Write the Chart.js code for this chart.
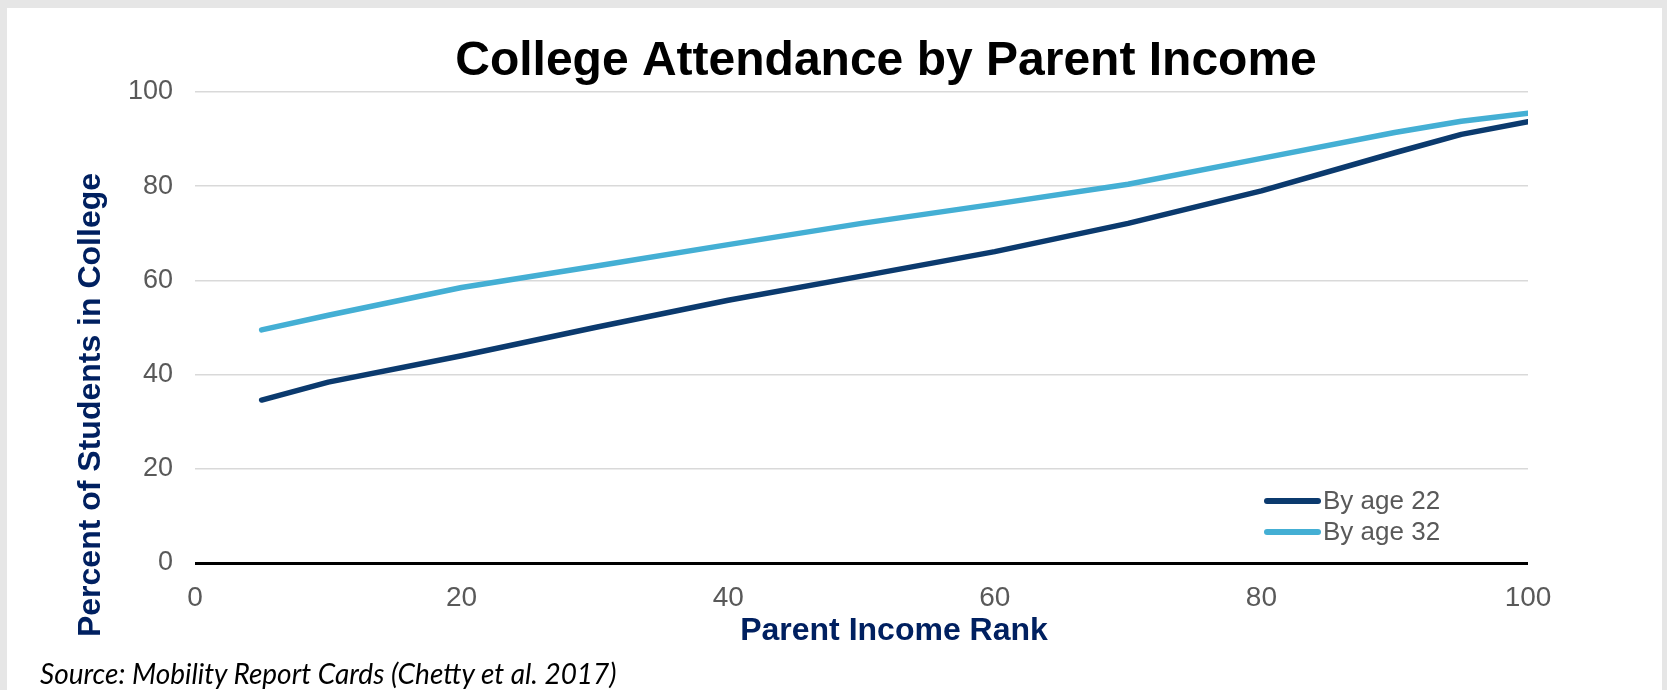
<!DOCTYPE html>
<html>
<head>
<meta charset="utf-8">
<title>College Attendance by Parent Income</title>
<script src="https://cdn.jsdelivr.net/npm/chart.js@4"></script>
<style>
    html, body {
        margin: 0;
        padding: 0;
        background: #e6e6e6;
        width: 1667px;
        height: 690px;
        overflow: hidden;
    }
    #panel {
        position: absolute;
        left: 7px;
        top: 8px;
        width: 1655px;
        height: 682px;
        background: #ffffff;
    }
    #chartWrap {
        position: absolute;
        left: 0;
        top: 0;
        width: 1655px;
        height: 682px;
    }
    #source {
        position: absolute;
        left: 33px;
        top: 648px;
        font-family: Lato, "Open Sans", sans-serif;
        font-style: italic;
        font-size: 28px;
        color: #000;
        white-space: nowrap;
    }
</style>
</head>
<body>
<div id="panel">
    <div id="chartWrap"><canvas id="attendanceChart"></canvas></div>
    <div id="source">Source: Mobility Report Cards (Chetty et al. 2017)</div>
</div>
<script>
// Percentil de ingreso de los padres
const incomeRank = [5, 10, 20, 30, 40, 50, 60, 70, 80, 90, 95, 100];
// Porcentaje de estudiantes en la universidad
const byAge22 = [34.6, 38.4, 44.0, 50.0, 55.8, 60.9, 66.1, 72.1, 79.0, 87.1, 91.0, 93.7];
const byAge32 = [49.5, 52.6, 58.5, 63.0, 67.6, 72.1, 76.2, 80.4, 85.9, 91.4, 93.8, 95.5];
const seriesLabels = ['By age 22', 'By age 32'];
const axisTicks = [0, 20, 40, 60, 80, 100];

const chartTitle = 'College Attendance by Parent Income';
const xTitle = 'Parent Income Rank';
const yTitle = 'Percent of Students in College';

const NAVY = '#002060';
const TICK_GREY = '#595959';

function toPoints(xs, ys) {
    return xs.map((x, i) => ({ x: x, y: ys[i] }));
}

// Títulos y leyenda dibujados a mano sobre el lienzo
const annotationsPlugin = {
    id: 'annotations',
    afterDraw(chart) {
        const ctx = chart.ctx;
        const area = chart.chartArea;
        ctx.save();

        // Título principal
        ctx.fillStyle = '#000';
        ctx.font = 'bold 48px "Liberation Sans", Arial, sans-serif';
        ctx.textAlign = 'center';
        ctx.textBaseline = 'middle';
        ctx.fillText(chartTitle, 879, 54);

        // Título del eje X
        ctx.fillStyle = NAVY;
        ctx.font = 'bold 32px "Liberation Sans", Arial, sans-serif';
        ctx.fillText(xTitle, 887, 623);

        // Título del eje Y (rotado)
        ctx.save();
        ctx.translate(84, 397);
        ctx.rotate(-Math.PI / 2);
        ctx.fillText(yTitle, 0, 0);
        ctx.restore();

        // Leyenda abajo a la derecha dentro del área del gráfico
        ctx.font = '26px "Liberation Sans", Arial, sans-serif';
        ctx.textAlign = 'left';
        ctx.lineCap = 'round';
        chart.data.datasets.forEach((ds, i) => {
            const y = area.bottom - 62 + i * 31;
            ctx.strokeStyle = ds.borderColor;
            ctx.lineWidth = 6;
            ctx.beginPath();
            ctx.moveTo(1260, y);
            ctx.lineTo(1311, y);
            ctx.stroke();
            ctx.fillStyle = TICK_GREY;
            ctx.fillText(ds.label, 1316, y + 1);
        });

        ctx.restore();
    }
};

const ctx = document.getElementById('attendanceChart');

new Chart(ctx, {
    type: 'line',
    data: {
        datasets: [
            {
                label: seriesLabels[0],
                data: toPoints(incomeRank, byAge22),
                borderColor: '#0b3a6e',
                backgroundColor: '#0b3a6e',
                borderWidth: 5.5,
                borderCapStyle: 'round',
                borderJoinStyle: 'round',
                pointRadius: 0,
                tension: 0
            },
            {
                label: seriesLabels[1],
                data: toPoints(incomeRank, byAge32),
                borderColor: '#44afd4',
                backgroundColor: '#44afd4',
                borderWidth: 5.5,
                borderCapStyle: 'round',
                borderJoinStyle: 'round',
                pointRadius: 0,
                tension: 0
            }
        ]
    },
    options: {
        responsive: true,
        maintainAspectRatio: false,
        animation: false,
        layout: {
            padding: { left: 88, right: 134, top: 84, bottom: 67 }
        },
        plugins: {
            legend: { display: false },
            title: { display: false },
            tooltip: { enabled: false }
        },
        scales: {
            x: {
                type: 'linear',
                min: 0,
                max: 100,
                afterFit(scale) { scale.height = 60; },
                afterBuildTicks(scale) { scale.ticks = axisTicks.map(v => ({ value: v })); },
                grid: { display: false, drawTicks: false },
                border: { display: false },
                ticks: {
                    padding: 18,
                    color: TICK_GREY,
                    font: { family: '"Liberation Sans", Arial, sans-serif', size: 28 }
                }
            },
            y: {
                min: 0,
                max: 100,
                afterFit(scale) { scale.width = 100; },
                afterBuildTicks(scale) { scale.ticks = axisTicks.map(v => ({ value: v })); },
                grid: {
                    drawTicks: false,
                    color: c => (c.tick && c.tick.value === 0 ? '#000000' : '#d9d9d9'),
                    lineWidth: c => (c.tick && c.tick.value === 0 ? 3 : 1.5)
                },
                border: { display: false },
                ticks: {
                    padding: 22,
                    color: TICK_GREY,
                    font: { family: '"Liberation Sans", Arial, sans-serif', size: 27 }
                }
            }
        }
    },
    plugins: [annotationsPlugin]
});
</script>
</body>
</html>
